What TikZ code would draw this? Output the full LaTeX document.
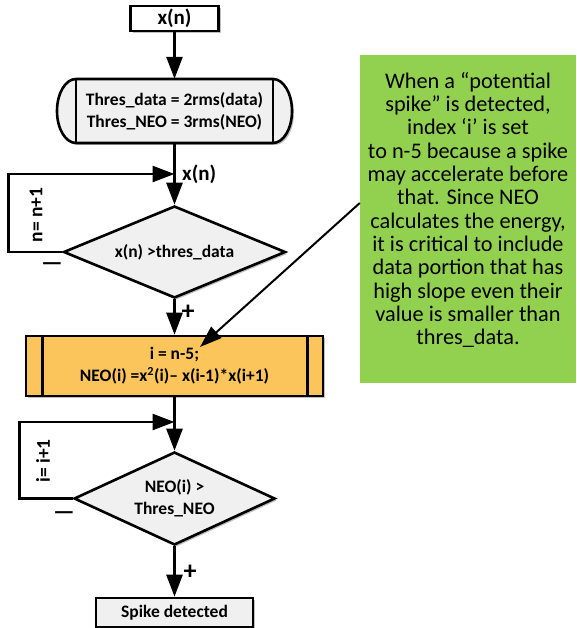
\documentclass[tikz,border=0pt]{standalone}
\usepackage{fontspec}
\setmainfont{Carlito}
\usetikzlibrary{arrows.meta,shapes.geometric,shadows}
\definecolor{orangebox}{HTML}{FBC55C}
\definecolor{greenbox}{HTML}{92D050}
\definecolor{grayfill}{HTML}{F0F0F0}
\tikzset{
  flow/.style={line width=2.6pt, -{Triangle[length=22pt,width=16pt]}},
  boxline/.style={draw, line width=2.6pt},
  shad/.style={drop shadow={shadow xshift=2pt, shadow yshift=-2pt, opacity=0.25, fill=black}},
  ftext/.style={font=\fontsize{17.5}{22}\selectfont\bfseries},
  looptext/.style={font=\fontsize{19.5}{20}\selectfont\bfseries, rotate=90, inner sep=0},
  bigtext/.style={font=\fontsize{21}{21}\selectfont\bfseries},
  signtext/.style={font=\fontsize{26}{26}\selectfont\bfseries, inner sep=0},
  minustext/.style={font=\fontsize{24}{24}\selectfont\bfseries, inner sep=0},
  notetext/.style={font=\fontsize{22.3}{23.3}\selectfont, align=center, inner sep=0},
}
\begin{document}
\begin{tikzpicture}[x=1pt,y=-1pt]
\useasboundingbox (0,0) rectangle (576,628);
% input box
\node[boxline, fill=white, shad, minimum width=88pt, minimum height=25pt, inner sep=0, bigtext] (in) at (174.5,18.5) {x(n)};
% terminator
\path[boxline, fill=grayfill, shad] (76,79) -- (273,79)
  arc[start angle=90,end angle=-90,x radius=19pt,y radius=32pt] -- (76,143)
  arc[start angle=270,end angle=90,x radius=19pt,y radius=32pt] -- cycle;
\draw[line width=2.6pt] (76,79) -- (76,143) (273,79) -- (273,143);
\node[ftext, minimum width=233pt, minimum height=64pt, inner sep=0, align=center] (init) at (174.5,111) {Thres\_data = 2rms(data)\\Thres\_NEO = 3rms(NEO)};
% decision 1
\node[diamond, boxline, fill=grayfill, shad, minimum width=222pt, minimum height=92pt, inner sep=0, aspect=2.4, ftext] (d1) at (174.5,252) {x(n) >thres\_data};
% subroutine box
\node[boxline, fill=orangebox, shad, minimum width=297pt, minimum height=60pt, inner sep=0, align=center, ftext] (sub) at (174.5,366) {i = n-5;\\NEO(i) =x\textsuperscript{2}(i)– x(i-1)*x(i+1)};
\draw[line width=2.6pt] ([xshift=18pt]sub.north west) -- ([xshift=18pt]sub.south west)
  ([xshift=-17pt]sub.north east) -- ([xshift=-17pt]sub.south east);
% decision 2
\node[diamond, boxline, fill=grayfill, shad, minimum width=201pt, minimum height=93pt, inner sep=0, aspect=2.2, align=center, ftext] (d2) at (174.5,498.5) {NEO(i) >\\Thres\_NEO};
% output
\node[boxline, fill=grayfill, shad, minimum width=157pt, minimum height=29pt, inner sep=0, ftext] (spike) at (174.5,612.5) {Spike detected};
% note
\node[fill=greenbox, minimum width=216pt, minimum height=328pt, inner sep=0] (note) at (468,219) {};
\node[notetext] (notetxt) at (468,210) {When a “potential\\spike” is detected,\\index ‘i’ is set\\to n-5 because a spike\\may accelerate before\\that. Since NEO\\calculates the energy,\\it is critical to include\\data portion that has\\high slope even their\\value is smaller than\\thres\_data.};
% junctions
\coordinate (j1) at (174.5,174);
\coordinate (j2) at (174.5,422);
\coordinate (ptr) at (200,347);
% connectors
\draw[flow] (in.south) -- (init.north);
\draw[flow] (init.south) -- (d1.north);
\draw[flow] (d1.west) -- ++(-54,0) |- (j1);
\draw[flow] (d1.south) -- (sub.north);
\draw[flow] (sub.south) -- (d2.north);
\draw[flow] (d2.west) -- ++(-53,0) |- (j2);
\draw[flow] (d2.south) -- (spike.north);
\draw[line width=2pt, -{Triangle[length=22pt,width=15pt]}] ([yshift=16pt]note.west) -- (ptr);
% labels
\node[bigtext, anchor=west, inner sep=0] (lx) at (182,174) {x(n)};
\node[looptext] (ln) at (36,215) {n= n+1};
\node[looptext] (li) at (43,461) {i= i+1};
\node[minustext] (m1) at (52,267) {—};
\node[minustext] (m2) at (64,516) {—};
\node[signtext] (p1) at (188,312) {+};
\node[signtext] (p2) at (190,572) {+};
\end{tikzpicture}
\end{document}
